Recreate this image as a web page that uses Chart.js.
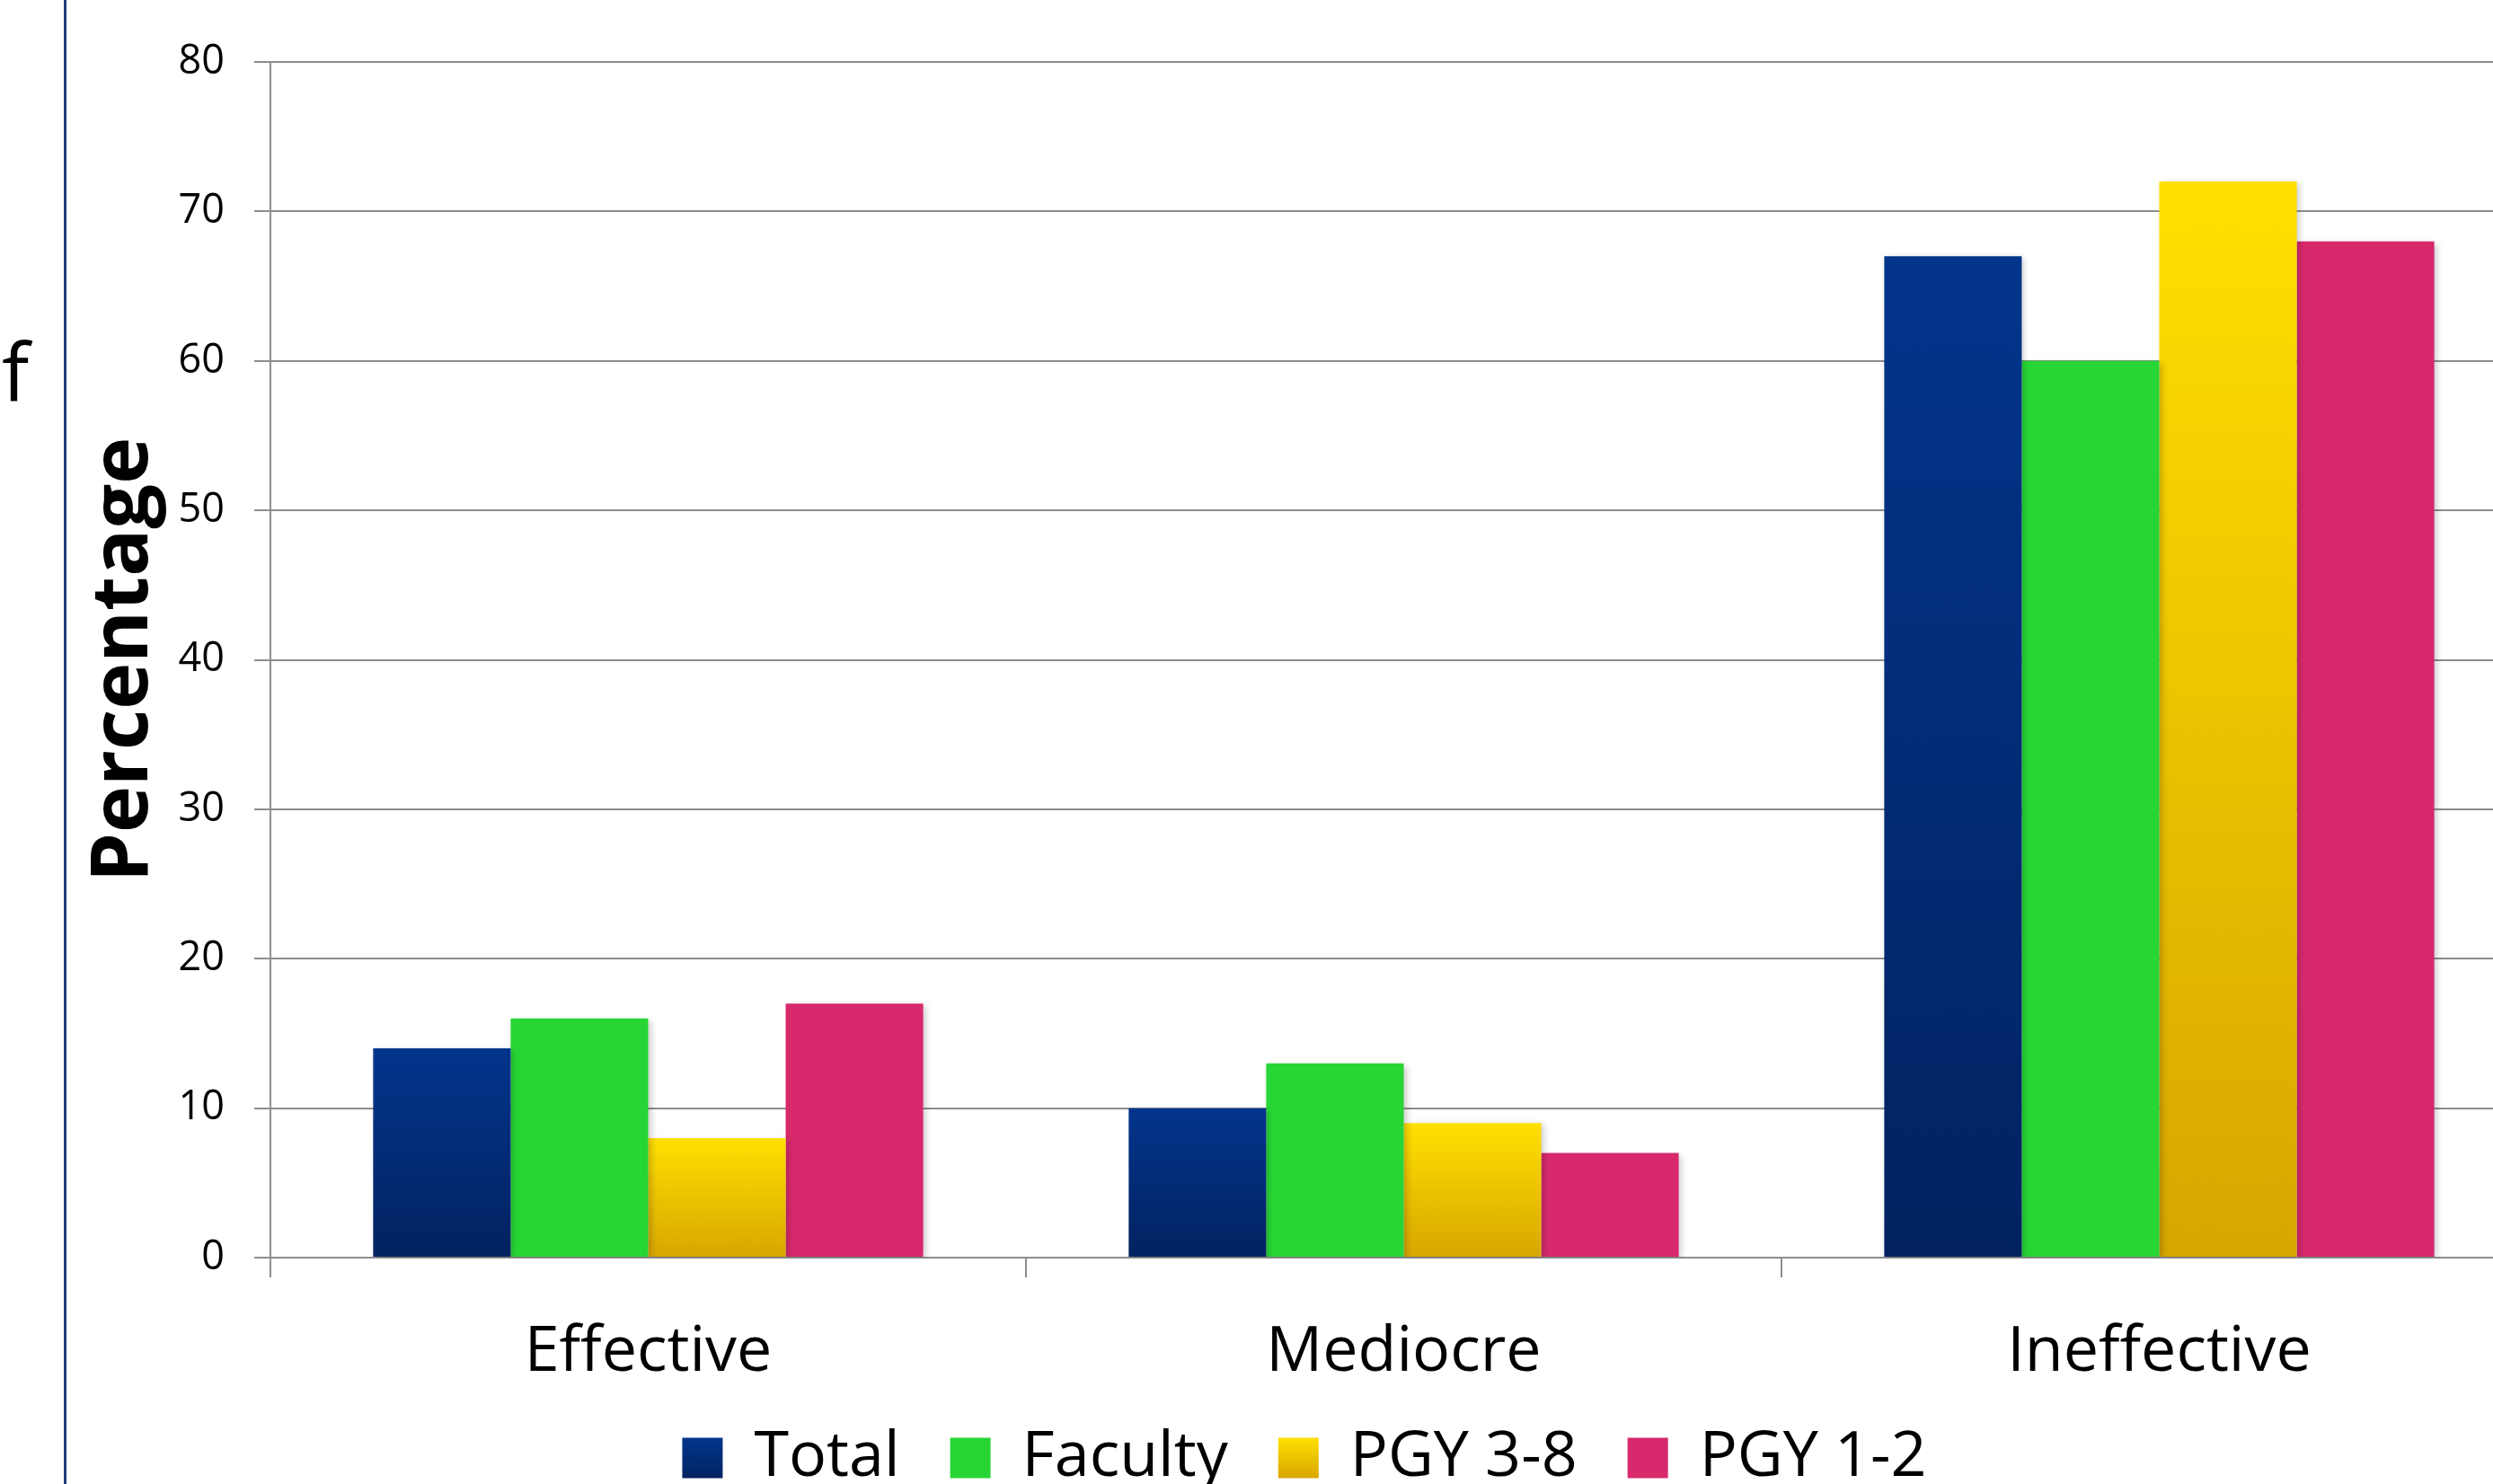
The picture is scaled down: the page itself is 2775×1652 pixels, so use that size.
<!DOCTYPE html>
<html>
<head>
<meta charset="utf-8">
<script src="https://cdn.jsdelivr.net/npm/chart.js@4/dist/chart.umd.min.js"></script>
<style>
  html, body { margin: 0; padding: 0; background: #fff; overflow: hidden; width: 2775px; height: 1652px; }
  #frame { position: absolute; left: 71px; top: 0; width: 3px; height: 1652px; background: #1f3d78; }
  #side { position: absolute; left: 2px; top: 366px; font-family: 'Open Sans', sans-serif; font-size: 90px; line-height: 1; color: #000; }
  #chart { position: absolute; left: 80px; top: 0; }
</style>
</head>
<body>
<div id="frame"></div>
<div id="side">f</div>
<canvas id="chart" width="2744" height="1696" style="width:2744px;height:1696px"></canvas>
<script>
// Survey results by respondent group
const categories = ['Effective', 'Mediocre', 'Ineffective'];
const seriesNames = ['Total', 'Faculty', 'PGY 3-8', 'PGY 1-2'];
const totalValues   = [14, 10, 67];
const facultyValues = [16, 13, 60];
const pgy38Values   = [8, 9, 72];
const pgy12Values   = [17, 7, 68];
const yMin = 0, yMax = 80, yStep = 10;

// fill colours: [top of bar, bottom of bar]
const fills = [
  ['#03358c', '#022260'],
  ['#27d535', '#27d535'],
  ['#ffe000', '#d8a600'],
  ['#d7296c', '#d7296c']
];

const FONT = "'Open Sans', sans-serif";
const GRID = '#8d8d8d';
const LEGEND_PAD = 56, LEGEND_FONT = 70, LEGEND_BOX = 45;
const X_AXIS_HEIGHT = 160;     // room for the category labels
const LEGEND_GAP = 188;        // legend row starts this far below the axis line

function barFill(idx) {
  const [top, bottom] = fills[idx];
  return (ctx) => {
    const chart = ctx.chart;
    if (top === bottom || !chart.chartArea || ctx.type !== 'data') return top;
    const y = chart.scales.y;
    const y0 = y.getPixelForValue(0);
    const y1 = y.getPixelForValue(ctx.raw);
    const g = chart.ctx.createLinearGradient(0, y1, 0, y0);
    g.addColorStop(0, top);
    g.addColorStop(1, bottom);
    return g;
  };
}

const barShadow = {
  id: 'barShadow',
  beforeDatasetsDraw(chart) {
    const c = chart.ctx;
    c.save();
    c.shadowColor = 'rgba(0,0,0,0.20)';
    c.shadowBlur = 7;
    c.shadowOffsetX = 3;
    c.shadowOffsetY = 2;
  },
  afterDatasetsDraw(chart) { chart.ctx.restore(); }
};

// place the legend row a fixed distance below the axis line
const legendPlace = {
  id: 'legendPlace',
  afterLayout(chart) {
    const lg = chart.legend;
    if (!lg) return;
    const h = lg.bottom - lg.top;
    lg.top = chart.scales.x.top + LEGEND_GAP - LEGEND_PAD;
    lg.bottom = lg.top + h;
  }
};

const seriesValues = [totalValues, facultyValues, pgy38Values, pgy12Values];

const chart = new Chart(document.getElementById('chart'), {
  type: 'bar',
  data: {
    labels: categories,
    datasets: seriesNames.map((name, i) => ({
      label: name,
      data: seriesValues[i],
      backgroundColor: barFill(i),
      borderWidth: 0,
      barPercentage: 1,
      categoryPercentage: 0.728
    }))
  },
  plugins: [barShadow, legendPlace],
  options: {
    responsive: false,
    devicePixelRatio: 1,
    animation: false,
    layout: { padding: { top: 69, right: 0, bottom: 0, left: 0 } },
    font: { family: FONT },
    plugins: {
      tooltip: { enabled: false },
      legend: {
        position: 'bottom',
        align: 'center',
        labels: {
          font: { family: FONT, size: LEGEND_FONT },
          color: '#000',
          boxWidth: LEGEND_BOX,
          boxHeight: LEGEND_BOX,
          padding: LEGEND_PAD,
          generateLabels(chart) {
            const items = Chart.defaults.plugins.legend.labels.generateLabels(chart);
            const lg = chart.legend;
            items.forEach((it, i) => {
              const [top, bottom] = fills[i];
              if (top !== bottom && lg && lg.top) {
                const y0 = lg.top + LEGEND_PAD + (LEGEND_FONT - LEGEND_BOX) / 2;
                const g = chart.ctx.createLinearGradient(0, y0, 0, y0 + LEGEND_BOX);
                g.addColorStop(0, top);
                g.addColorStop(1, bottom);
                it.fillStyle = g;
              } else {
                it.fillStyle = top;
              }
              it.lineWidth = 0;
            });
            return items;
          }
        }
      }
    },
    scales: {
      x: {
        offset: true,
        grid: { display: true, drawOnChartArea: false, drawTicks: true, tickLength: 22, color: GRID, lineWidth: 2, offset: true },
        border: { display: true, color: GRID, width: 2 },
        ticks: { font: { family: FONT, size: 70 }, color: '#000', padding: 42 },
        afterFit(scale) { scale.height = X_AXIS_HEIGHT; }
      },
      y: {
        min: yMin,
        max: yMax,
        ticks: { stepSize: yStep, font: { family: FONT, size: 45 }, color: '#000', padding: 33 },
        grid: { color: GRID, lineWidth: 2, tickLength: 18 },
        border: { display: true, color: GRID, width: 2 },
        title: {
          display: true,
          text: 'Percentage',
          color: '#000',
          font: { family: FONT, size: 88, weight: 'bold', lineHeight: 1 },
          padding: { top: 15, bottom: 0 }
        },
        afterFit(scale) { scale.width = 221; }
      }
    }
  }
});
// second pass so the legend swatches know where they sit
chart.update();
</script>
</body>
</html>
